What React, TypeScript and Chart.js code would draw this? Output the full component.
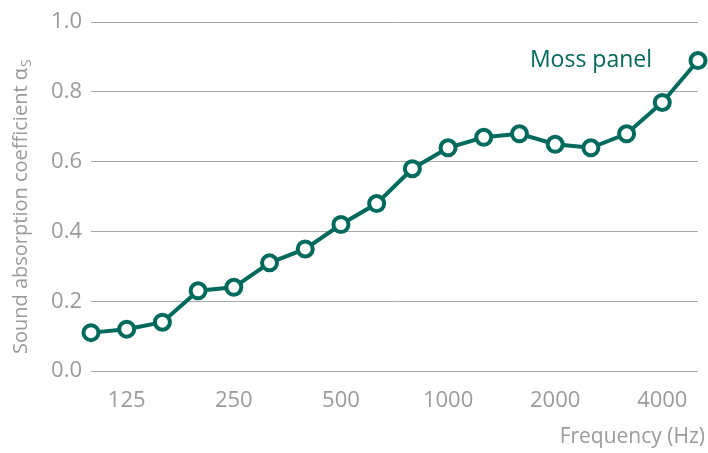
import React, { useEffect, useRef } from "react";
import { Chart, registerables } from "chart.js";

Chart.register(...registerables);

const frequencies = ["100", "125", "160", "200", "250", "315", "400", "500", "630", "800", "1000", "1250", "1600", "2000", "2500", "3150", "4000", "5000"];
const shownTicks = ["125", "250", "500", "1000", "2000", "4000"];
const mossPanel = [0.11, 0.12, 0.14, 0.23, 0.24, 0.31, 0.35, 0.42, 0.48, 0.58, 0.64, 0.67, 0.68, 0.65, 0.64, 0.68, 0.77, 0.89];
const seriesName = "Moss panel";
const yTitle = "Sound absorption coefficient α";
const yTitleSub = "S";
const xTitle = "Frequency (Hz)";

const TEAL = "#006a5d";
const GRAY = "#9a9a9a";
const FONT = "'Open Sans', 'Noto Sans', sans-serif";

export default function App() {
  const ref = useRef<HTMLCanvasElement>(null);
  useEffect(() => {
    const canvas = ref.current;
    if (!canvas) return;
    const labelsPlugin = {
      id: "customText",
      afterDraw(chart: any) {
        const ctx = chart.ctx;
        ctx.save();
        // y title with subscript
        ctx.translate(27, 354);
        ctx.rotate(-Math.PI / 2);
        ctx.fillStyle = GRAY;
        ctx.font = `20px ${FONT}`;
        ctx.textAlign = "left";
        ctx.textBaseline = "alphabetic";
        ctx.fillText(yTitle, 0, 0);
        const w = ctx.measureText(yTitle).width;
        ctx.font = `14px ${FONT}`;
        ctx.fillText(yTitleSub, w + 1, 4);
        ctx.restore();
        // x title
        ctx.save();
        ctx.fillStyle = GRAY;
        ctx.font = `21px ${FONT}`;
        ctx.textAlign = "right";
        ctx.textBaseline = "middle";
        ctx.fillText(xTitle, 705, 437);
        ctx.restore();
        // series label
        const ds = chart.data.datasets[0];
        const last = ds.data.length - 1;
        const xs = chart.scales.x;
        const ys = chart.scales.y;
        ctx.save();
        ctx.fillStyle = TEAL;
        ctx.font = `23px ${FONT}`;
        ctx.textAlign = "right";
        ctx.textBaseline = "middle";
        ctx.fillText(ds.label, xs.getPixelForValue(last) - 46, ys.getPixelForValue(ds.data[last]));
        ctx.restore();
      },
    };
    const chart = new Chart(canvas, {
      type: "line",
      data: {
        labels: frequencies,
        datasets: [
          {
            label: seriesName,
            data: mossPanel,
            borderColor: TEAL,
            borderWidth: 4,
            pointRadius: 7.5,
            pointBorderWidth: 4,
            pointBackgroundColor: "#ffffff",
            pointBorderColor: TEAL,
            clip: false as any,
            tension: 0,
          },
        ],
      },
      options: {
        animation: false,
        responsive: false,
        maintainAspectRatio: false,
        layout: { autoPadding: false, padding: { top: 20, right: 10, left: 0, bottom: 0 } },
        plugins: { legend: { display: false }, tooltip: { enabled: false } },
        scales: {
          x: {
            offset: false,
            grid: { display: false },
            border: { display: false },
            ticks: {
              autoSkip: false,
              maxRotation: 0,
              padding: 9,
              color: GRAY,
              font: { family: FONT, size: 22 },
              callback: (_v: any, i: number) => (shownTicks.includes(frequencies[i]) ? frequencies[i] : ""),
            },
            afterFit: (s: any) => {
              s.height = 82;
            },
          },
          y: {
            min: 0,
            max: 1,
            grid: { color: "#a6a6a6", lineWidth: 1, drawTicks: false },
            border: { display: false },
            ticks: {
              stepSize: 0.2,
              padding: 9,
              color: GRAY,
              font: { family: FONT, size: 22 },
              callback: (v: any) => Number(v).toFixed(1),
            },
            afterFit: (s: any) => {
              s.width = 91;
            },
          },
        },
      },
      plugins: [labelsPlugin],
    });
    return () => chart.destroy();
  }, []);
  return (
    <div style={{ position: "absolute", left: 0, top: 0, width: 708, height: 453 }}>
      <canvas ref={ref} width={708} height={453} style={{ width: 708, height: 453 }} />
    </div>
  );
}
